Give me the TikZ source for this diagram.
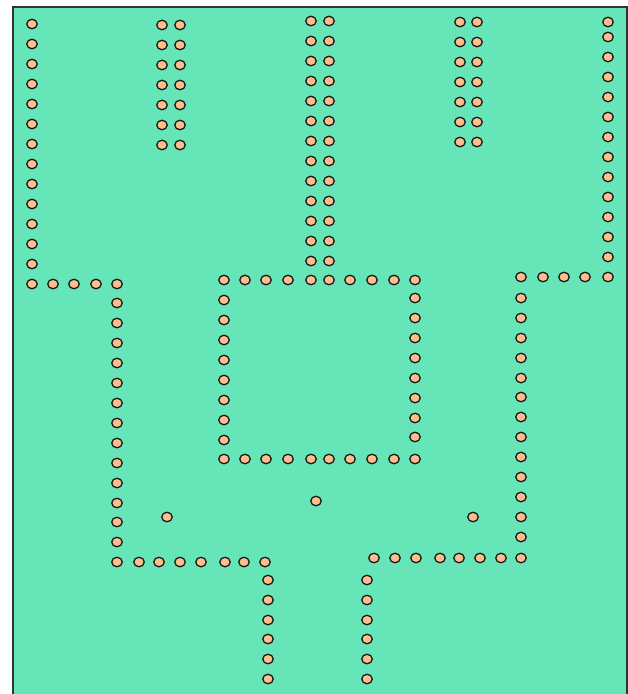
\documentclass[tikz,border=0pt]{standalone}
\usetikzlibrary{shapes.geometric}
\definecolor{field}{RGB}{102,230,184}
\definecolor{peg}{RGB}{255,192,140}
\begin{document}
\begin{tikzpicture}[x=1pt, y=-1pt,
		dot/.style={ellipse, draw=black!90, fill=peg, line width=1.3pt, minimum width=10.5pt, minimum height=9.5pt, inner sep=0pt}]
			
			\useasboundingbox (0,0) rectangle (628,694);
			\filldraw[fill=field, draw=black!80, line width=1.2pt] (13,7) rectangle (627,702);

			% left wall
			\foreach \y [count=\i] in {24,44,...,264} \node[dot] (wa\i) at (32,\y) {};
			\foreach \x [count=\i] in {32,53,74,96,117} \node[dot] (wb\i) at (\x,284) {};
			\foreach \y [count=\i] in {303,323,343,363,383,403,423,443,463,483,503,522,542} \node[dot] (wc\i) at (117,\y) {};
			\foreach \x [count=\i] in {117,139,159,180,201,225,244,265} \node[dot] (wd\i) at (\x,562) {};
			\foreach \y [count=\i] in {580,600,620,639,659,679} \node[dot] (we\i) at (268,\y) {};

			% double rows
			\foreach \y [count=\i] in {25,45,...,145} {
\node[dot] (pa\i) at (162,\y) {};
\node[dot] (pb\i) at (180,\y) {};
}
			\foreach \y [count=\i] in {21,41,...,261} {
\node[dot] (qa\i) at (311,\y) {};
\node[dot] (qb\i) at (329,\y) {};
}
			\foreach \y [count=\i] in {22,42,...,142} {
\node[dot] (ra\i) at (460,\y) {};
\node[dot] (rb\i) at (477,\y) {};
}

			% middle square
			\foreach \x [count=\i] in {224,245,266,288,311,329,350,372,394,415} {
\node[dot] (sa\i) at (\x,280) {};
\node[dot] (sb\i) at (\x,459) {};
}
			\foreach \y [count=\i] in {300,320,...,440} \node[dot] (sc\i) at (224,\y) {};
			\foreach \y [count=\i] in {298,318,338,358,378,398,418,437} \node[dot] (sd\i) at (415,\y) {};

			% right wall
			\foreach \y [count=\i] in {22,37,57,77,97,117,137,157,177,197,217,237,257,277} \node[dot] (ta\i) at (608,\y) {};
			\foreach \x [count=\i] in {521,543,564,585} \node[dot] (tb\i) at (\x,277) {};
			\foreach \y [count=\i] in {298,318,338,358,378,397,417,437,457,477,497,517,537} \node[dot] (tc\i) at (521,\y) {};
			\foreach \x [count=\i] in {374,395,416,440,459,480,501,521} \node[dot] (td\i) at (\x,558) {};
			\foreach \y [count=\i] in {580,600,620,639,659,679} \node[dot] (te\i) at (367,\y) {};

			% loose pegs
			\node[dot] (u1) at (167,517) {};
\node[dot] (u2) at (316,501) {};
\node[dot] (u3) at (473,517) {};


		\end{tikzpicture}
\end{document}
